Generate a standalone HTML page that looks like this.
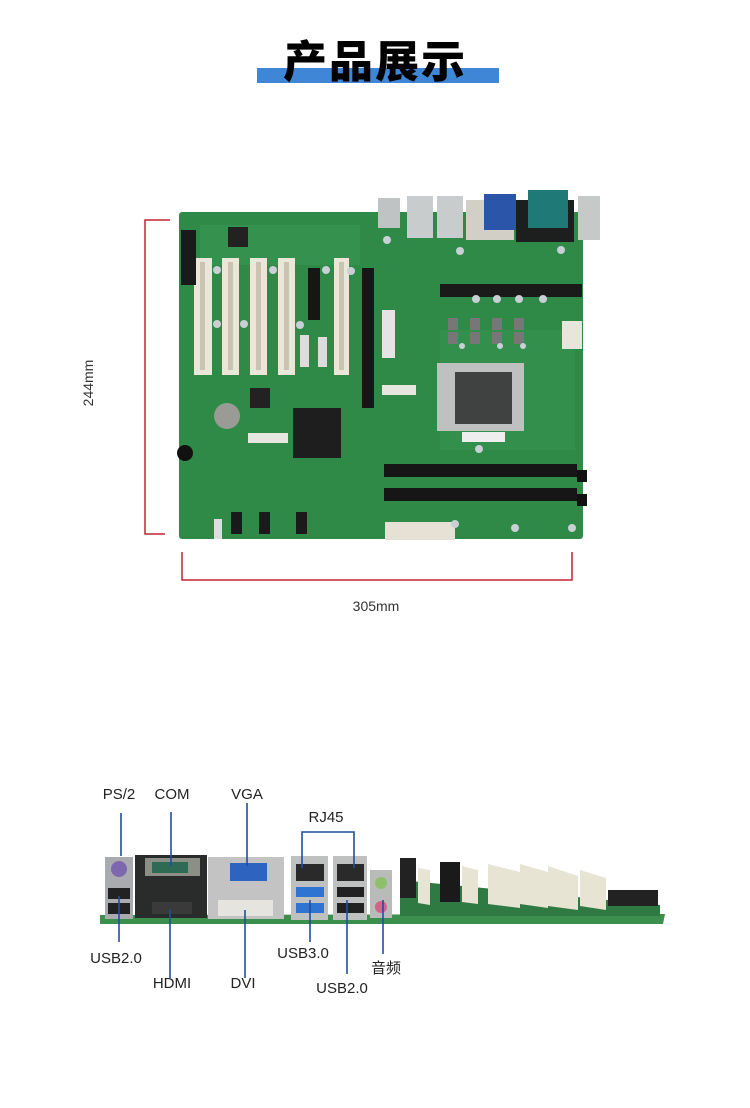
<!DOCTYPE html>
<html><head><meta charset="utf-8"><style>
body{margin:0;background:#fff;}
#w{position:relative;width:750px;height:1108px;overflow:hidden;background:#fff;font-family:"Liberation Sans","Noto Sans CJK SC",sans-serif;}
.t{position:absolute;font-size:15px;color:#222;white-space:nowrap;transform:translateX(-50%);}
</style></head><body><div id="w">
<div style="position:absolute;left:257px;top:68px;width:242px;height:15px;background:#3f86d6"></div>
<div style="position:absolute;left:0;width:750px;top:30px;text-align:center;font-family:'Noto Sans CJK SC',sans-serif;font-weight:900;font-size:44px;line-height:56px;color:#000;letter-spacing:2px">产品展示</div>

<svg style="position:absolute;left:0;top:0" width="750" height="1108">
<!-- dimension brackets -->
<g stroke="#c0262d" stroke-width="1.5" fill="none">
<path d="M170 220H145V534H165"/>
<path d="M182 552V580H572V552"/>
</g>
<!-- board -->
<rect x="179" y="212" width="404" height="327" rx="3" fill="#2f8a48"/>
<rect x="200" y="225" width="160" height="40" fill="#3a9654" opacity=".6"/>
<rect x="440" y="330" width="135" height="120" fill="#379250" opacity=".6"/>
<!-- IO back -->
<rect x="378" y="198" width="22" height="30" fill="#bfc3c3"/>
<rect x="407" y="196" width="26" height="42" fill="#c9cccc"/>
<rect x="437" y="196" width="26" height="42" fill="#c9cccc"/>
<rect x="466" y="200" width="48" height="40" fill="#d2d0c6"/>
<rect x="484" y="194" width="32" height="36" fill="#2b55a8"/>
<rect x="516" y="200" width="58" height="42" fill="#1d1f1f"/>
<rect x="528" y="190" width="40" height="38" fill="#1f7a77"/>
<rect x="578" y="196" width="22" height="44" fill="#c7c9c9"/>
<!-- PCI slots -->
<g fill="#eae6d8"><rect x="194" y="258" width="18" height="117"/><rect x="222" y="258" width="17" height="117"/><rect x="250" y="258" width="17" height="117"/><rect x="278" y="258" width="17" height="117"/><rect x="334" y="258" width="15" height="117"/></g>
<g fill="#c9c4b2"><rect x="200" y="262" width="5" height="108"/><rect x="228" y="262" width="5" height="108"/><rect x="256" y="262" width="5" height="108"/><rect x="284" y="262" width="5" height="108"/><rect x="339" y="262" width="5" height="108"/></g>
<rect x="308" y="268" width="12" height="52" fill="#161616"/>
<rect x="362" y="268" width="12" height="140" fill="#161616"/>
<rect x="181" y="230" width="15" height="55" fill="#1a1a1a"/>
<rect x="300" y="335" width="9" height="32" fill="#dcdcdc"/><rect x="318" y="337" width="9" height="30" fill="#dcdcdc"/>
<rect x="382" y="310" width="13" height="48" fill="#e4e4e4"/>
<!-- chips -->
<rect x="228" y="227" width="20" height="20" fill="#222"/>
<rect x="250" y="388" width="20" height="20" fill="#222"/>
<rect x="293" y="408" width="48" height="50" fill="#1e1e1e"/>
<circle cx="227" cy="416" r="13" fill="#9b9b95"/>
<circle cx="185" cy="453" r="8" fill="#111"/>
<rect x="248" y="433" width="40" height="10" fill="#e8e6e0"/>
<rect x="382" y="385" width="34" height="10" fill="#e8e6e0"/>
<!-- VRM headers -->
<g fill="#1a1a1a"><rect x="440" y="284" width="142" height="13"/></g>
<g fill="#777"><rect x="448" y="318" width="10" height="12"/><rect x="470" y="318" width="10" height="12"/><rect x="492" y="318" width="10" height="12"/><rect x="514" y="318" width="10" height="12"/><rect x="448" y="332" width="10" height="12"/><rect x="470" y="332" width="10" height="12"/><rect x="492" y="332" width="10" height="12"/><rect x="514" y="332" width="10" height="12"/></g>
<rect x="562" y="321" width="20" height="28" fill="#e8e6dc"/>
<!-- CPU -->
<rect x="437" y="363" width="87" height="68" fill="#bfc1c0"/>
<rect x="455" y="372" width="57" height="52" fill="#404242"/>
<rect x="462" y="432" width="43" height="10" fill="#eee"/>
<!-- DIMMs -->
<rect x="384" y="464" width="193" height="13" fill="#161616"/>
<rect x="384" y="488" width="193" height="13" fill="#161616"/>
<rect x="577" y="470" width="10" height="12" fill="#111"/><rect x="577" y="494" width="10" height="12" fill="#111"/>
<rect x="385" y="522" width="70" height="18" fill="#e6e1d4"/>
<!-- SATA -->
<g fill="#1a1a1a"><rect x="231" y="512" width="11" height="22"/><rect x="259" y="512" width="11" height="22"/><rect x="296" y="512" width="11" height="22"/></g>
<rect x="214" y="519" width="8" height="20" fill="#ddd"/>
<!-- caps -->
<g fill="#c8d0d6"><circle cx="217" cy="270" r="4"/><circle cx="273" cy="270" r="4"/><circle cx="326" cy="270" r="4"/><circle cx="351" cy="271" r="4"/><circle cx="217" cy="324" r="4"/><circle cx="244" cy="324" r="4"/><circle cx="300" cy="325" r="4"/><circle cx="476" cy="299" r="4"/><circle cx="497" cy="299" r="4"/><circle cx="519" cy="299" r="4"/><circle cx="543" cy="299" r="4"/><circle cx="462" cy="346" r="3"/><circle cx="500" cy="346" r="3"/><circle cx="523" cy="346" r="3"/><circle cx="479" cy="449" r="4"/><circle cx="455" cy="524" r="4"/><circle cx="515" cy="528" r="4"/><circle cx="572" cy="528" r="4"/><circle cx="387" cy="240" r="4"/><circle cx="460" cy="251" r="4"/><circle cx="561" cy="250" r="4"/></g>

<!-- bottom side view -->
<polygon points="100,915 665,914 663,924 100,924" fill="#3d8f4e"/>
<polygon points="400,880 660,905 660,916 400,916" fill="#2f7a42"/>
<g fill="#e8e4d4"><polygon points="418,868 430,870 430,905 418,903"/><polygon points="462,866 478,870 478,904 462,902"/><polygon points="488,864 520,872 520,908 488,904"/><polygon points="520,864 548,872 548,908 520,904"/><polygon points="548,866 578,876 578,910 548,906"/><polygon points="580,870 606,878 606,910 580,906"/></g>
<rect x="400" y="858" width="16" height="40" fill="#222"/>
<rect x="440" y="862" width="20" height="40" fill="#1a1a1a"/>
<rect x="608" y="890" width="50" height="16" fill="#222"/>
<rect x="105" y="857" width="28" height="62" fill="#a9abae"/>
<circle cx="119" cy="869" r="8" fill="#7d68b0"/>
<rect x="108" y="888" width="22" height="11" fill="#222"/><rect x="108" y="903" width="22" height="11" fill="#222"/>
<rect x="135" y="855" width="72" height="63" fill="#2a2c2c"/>
<rect x="145" y="858" width="55" height="18" fill="#8b8f86"/>
<rect x="152" y="862" width="36" height="11" fill="#2f6b54"/>
<rect x="152" y="902" width="40" height="12" fill="#3a3a3a"/>
<rect x="208" y="857" width="76" height="62" fill="#c2c3c2"/>
<rect x="230" y="863" width="37" height="18" fill="#2f63c0"/>
<rect x="218" y="900" width="55" height="16" fill="#e6e4de"/>
<rect x="291" y="856" width="37" height="64" fill="#bfc0c0"/>
<rect x="333" y="856" width="34" height="64" fill="#bfc0c0"/>
<rect x="296" y="864" width="28" height="17" fill="#2a2a2a"/><rect x="337" y="864" width="27" height="17" fill="#2a2a2a"/>
<rect x="296" y="887" width="28" height="10" fill="#2f74d0"/><rect x="296" y="903" width="28" height="10" fill="#2f74d0"/>
<rect x="337" y="887" width="27" height="10" fill="#222"/><rect x="337" y="903" width="27" height="10" fill="#222"/>
<rect x="370" y="870" width="22" height="48" fill="#b9bbb9"/>
<circle cx="381" cy="883" r="6" fill="#8fbf6a"/><circle cx="381" cy="907" r="6" fill="#d3628f"/>

<g stroke="#1f4fa0" stroke-width="1.6" fill="none">
<path d="M121 813V856"/><path d="M171 812V866"/><path d="M247 803V866"/>
<path d="M302 868V832H354V868"/>
<path d="M119 896V942"/><path d="M170 910V978"/><path d="M245 910V978"/>
<path d="M310 900V942"/><path d="M347 900V974"/><path d="M383 900V954"/>
</g>
</svg>

<div style="position:absolute;left:88px;top:383px;transform:translate(-50%,-50%) rotate(-90deg);font-size:14px;color:#333">244mm</div>
<div class="t" style="left:376px;top:598px;font-size:14px;color:#333">305mm</div>

<div class="t" style="left:119px;top:786px">PS/2</div>
<div class="t" style="left:172px;top:786px">COM</div>
<div class="t" style="left:247px;top:786px">VGA</div>
<div class="t" style="left:326px;top:809px">RJ45</div>
<div class="t" style="left:116px;top:950px">USB2.0</div>
<div class="t" style="left:172px;top:975px">HDMI</div>
<div class="t" style="left:243px;top:975px">DVI</div>
<div class="t" style="left:303px;top:945px">USB3.0</div>
<div class="t" style="left:386px;top:957px">音频</div>
<div class="t" style="left:342px;top:980px">USB2.0</div>
</div></body></html>
